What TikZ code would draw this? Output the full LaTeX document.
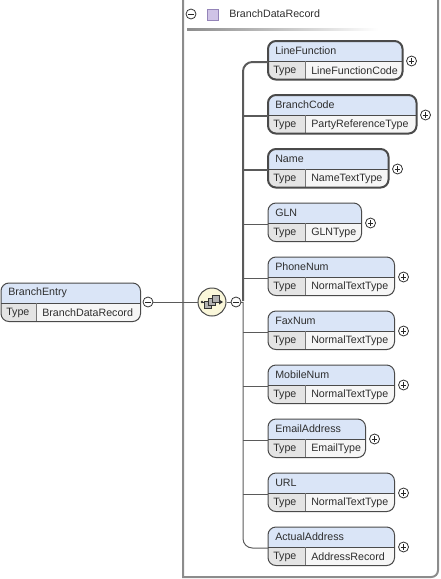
\documentclass[tikz,border=0pt]{standalone}
\usepackage{fontspec}
\setmainfont{Liberation Sans}
\usetikzlibrary{calc}
\definecolor{hdr}{HTML}{DAE5F7}
\definecolor{typ}{HTML}{E4E4E4}
\definecolor{val}{HTML}{F6F6F6}
\definecolor{bord}{HTML}{4A4A4A}
\definecolor{lin}{HTML}{5A5A5A}
\definecolor{frm}{HTML}{8C8C8C}
\definecolor{seqf}{HTML}{FAF7DA}
\definecolor{purf}{HTML}{CFC3E6}
\definecolor{purd}{HTML}{9484B8}
\tikzset{
  every node/.style={font=\fontsize{8}{9.6}\selectfont},
  lbl/.style={inner sep=0pt, anchor=west, text=black!82},
  elemnode/.style={minimum height=28.5pt, inner sep=0pt, anchor=north west},
  boxline/.style={draw=bord, line width=0.75pt, rounded corners=6pt},
  mand/.style={line width=1.5pt},
  pmcirc/.style={circle, draw=black!80, fill=white, line width=0.6pt, minimum size=7.5pt, inner sep=0pt},
  plus/.style={pmcirc, path picture={
      \draw[black!85, line width=0.6pt] ([xshift=-2.1pt]path picture bounding box.center) -- ([xshift=2.1pt]path picture bounding box.center);
      \draw[black!85, line width=0.6pt] ([yshift=-2.1pt]path picture bounding box.center) -- ([yshift=2.1pt]path picture bounding box.center);}},
  minus/.style={pmcirc, path picture={
      \draw[black!85, line width=0.6pt] ([xshift=-2.1pt]path picture bounding box.center) -- ([xshift=2.1pt]path picture bounding box.center);}},
  conn/.style={draw=lin, line width=0.75pt},
  mconn/.style={draw=lin, line width=1.5pt},
  seqbox/.style={circle, draw=bord, fill=seqf, line width=0.75pt, minimum size=21pt, inner sep=0pt},
}
% #1 name, #2 left, #3 top, #4 width(px), #5 type-cell width(px), #6 style
\newcommand\boxbody[6]{%
  \node[elemnode, minimum width={(#4)*0.75pt}] (#1) at (#2,#3) {};
  \begin{scope}
    \clip[rounded corners=6pt] (#1.north west) rectangle (#1.south east);
    \fill[hdr] (#1.north west) rectangle ($(#1.north east)+(0,20)$);
    \fill[typ] ($(#1.north west)+(0,20)$) rectangle ($(#1.south west)+(#5,0)$);
    \fill[val] ($(#1.north west)+(#5,20)$) rectangle (#1.south east);
    \draw[bord, line width=0.75pt] ($(#1.north west)+(0,20)$) -- ($(#1.north east)+(0,20)$);
    \draw[bord!75, line width=0.75pt] ($(#1.north west)+(#5,20)$) -- ($(#1.south west)+(#5,0)$);
  \end{scope}
  \draw[boxline,#6] (#1.north west) rectangle (#1.south east);
}
\newcommand\elem[6]{%
  \boxbody{#1}{268}{#2}{#3-268}{37}{#6}
  \node[lbl] (#1-l) at ($(#1.north west)+(7,10)$) {#4};
  \node[lbl] (#1-t) at ($(#1.north west)+(5,29.5)$) {Type};
  \node[lbl] (#1-v) at ($(#1.north west)+(43,29.5)$) {#5};
  \node[plus] (#1-p) at ($(#1.north east)+(9,20)$) {};
  \coordinate (#1-c) at ($(#1.north west)+(0,21)$);
}
\begin{document}
\begin{tikzpicture}[x=0.75pt,y=-0.75pt]
\useasboundingbox (0,0) rectangle (441,579);
% frame
\draw[frm, line width=1.5pt] (183,-5) -- (183,577) -- (420,577) [rounded corners=5pt] -- (438,577) -- (438,-5);
% header
\node[minus] (hm) at (191,14) {};
\fill[purf, draw=purd, line width=0.6pt] (207,9) rectangle (218,20);
\node[lbl] (hdrtxt) at (229,14) {BranchDataRecord};
\shade[left color=black!45, right color=white] (187,28) rectangle (378,30);
% branch entry
\boxbody{BE}{1}{283}{139}{35}{}
\node[lbl] (BE-l) at ($(BE.north west)+(7,10)$) {BranchEntry};
\node[lbl] (BE-t) at ($(BE.north west)+(5,29.5)$) {Type};
\node[lbl] (BE-v) at ($(BE.north west)+(41,29.5)$) {BranchDataRecord};
\node[minus] (BEm) at (148,302) {};
\node[seqbox] (seq) at (212,302) {};
\node[minus] (seqm) at (236,302) {};
\draw[conn] (BEm.east) -- (seq.west);
\draw[conn] (seq.east) -- (seqm.west);
% sequence icon
\begin{scope}[shift={(seq.center)}]
  \draw[black!80, line width=0.75pt] (-10,0) -- (8,0);
  \fill[black!80] (-10,0) circle (1.4);
  \fill[black!80] (11,0) -- (7,-2.5) -- (7,2.5) -- cycle;
  \foreach \dx/\dy in {-4/3, 0/0, 4/-3}
    \draw[black!80, fill=black!30, line width=0.6pt] (\dx-3.5,\dy-3.5) rectangle (\dx+3.5,\dy+3.5);
\end{scope}
% elements
\elem{LineFunction}{41}{402}{LineFunction}{LineFunctionCode}{mand}
\elem{BranchCode}{95}{416}{BranchCode}{PartyReferenceType}{mand}
\elem{Name}{149}{388}{Name}{NameTextType}{mand}
\elem{GLN}{203}{361}{GLN}{GLNType}{}
\elem{PhoneNum}{257}{394}{PhoneNum}{NormalTextType}{}
\elem{FaxNum}{311}{394}{FaxNum}{NormalTextType}{}
\elem{MobileNum}{365}{394}{MobileNum}{NormalTextType}{}
\elem{EmailAddress}{419}{365}{EmailAddress}{EmailType}{}
\elem{URL}{473}{394}{URL}{NormalTextType}{}
\elem{ActualAddress}{527}{394}{ActualAddress}{AddressRecord}{}
% trunk
\coordinate (trunk) at (243,302);
\draw[conn] (seqm.east) -- (trunk);
\draw[conn, rounded corners=7pt] (trunk) |- (ActualAddress-c);
\foreach \n in {GLN,PhoneNum,FaxNum,MobileNum,EmailAddress,URL}
  \draw[conn] (trunk |- \n-c) -- (\n-c);
\draw[mconn, rounded corners=7pt] ([yshift=0.6pt]trunk) |- (LineFunction-c);
\foreach \n in {BranchCode,Name}
  \draw[mconn] (trunk |- \n-c) -- (\n-c);
\end{tikzpicture}
\end{document}
